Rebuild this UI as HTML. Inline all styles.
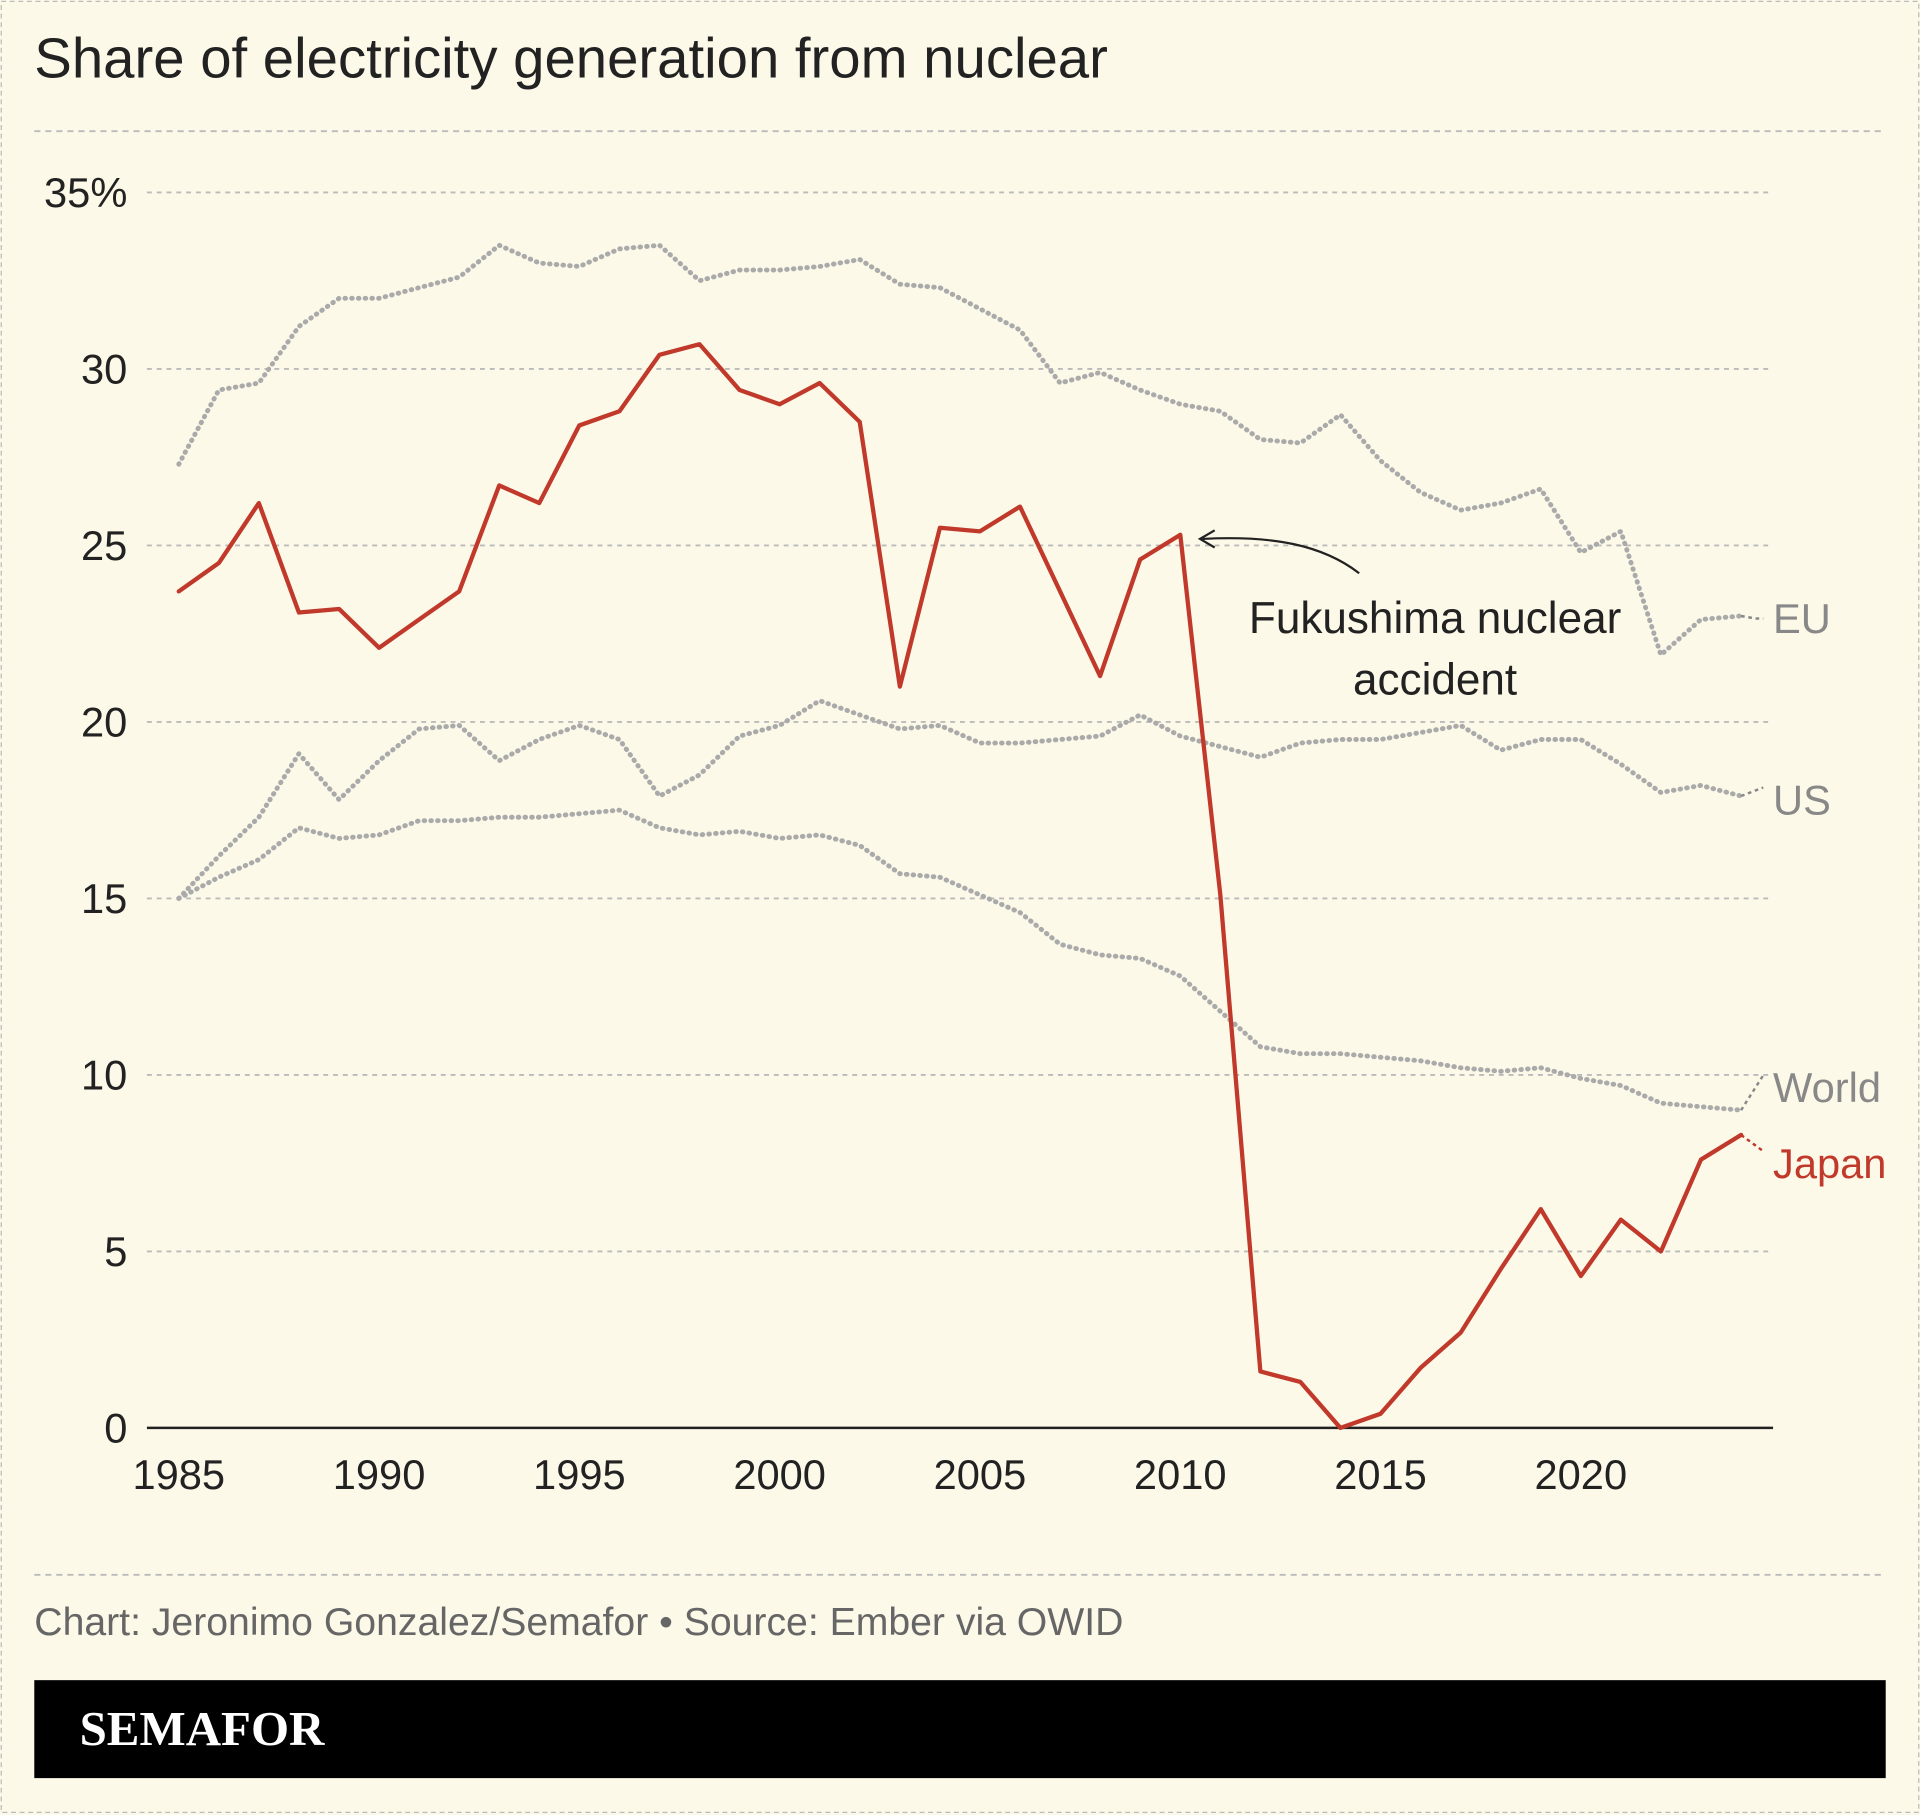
<!DOCTYPE html>
<html><head><meta charset="utf-8"><style>
html,body{margin:0;padding:0;background:#fcf9e8;}
svg{display:block;}
text{font-family:"Liberation Sans Narrow","Liberation Sans",sans-serif;}
</style></head><body>
<svg id="chart" width="1920" height="1815" viewBox="0 0 1568 1482" xmlns="http://www.w3.org/2000/svg">
<rect x="1" y="1" width="1566" height="1479" fill="#fcf9e8" stroke="#bbb" stroke-dasharray="4,3"/>
<text x="28" y="63" font-size="46" fill="#222" style="font-family:'Liberation Sans',sans-serif">Share of electricity generation from nuclear</text>
<line x1="28" y1="107" x2="1540" y2="107" stroke="#bbb" stroke-dasharray="5,4" stroke-width="1.5"/>
<g id="grid"></g><g id="series"></g><g id="labels"></g>
<text x="1172" y="517" font-size="36" fill="#222" text-anchor="middle"><tspan x="1172">Fukushima nuclear</tspan><tspan x="1172" dy="50">accident</tspan></text>
<path d="M1110,468 C1080,445 1040,437 982,440" fill="none" stroke="#222" stroke-width="1.8"/>
<path d="M992,433 L980,440 L992,447" fill="none" stroke="#222" stroke-width="1.8"/>
<line x1="28" y1="1286" x2="1540" y2="1286" stroke="#bbb" stroke-dasharray="5,4" stroke-width="1.5"/>
<text x="28" y="1335" font-size="32" fill="#666">Chart: Jeronimo Gonzalez/Semafor • Source: Ember via OWID</text>
<rect x="28" y="1372" width="1512" height="80" fill="#000"/>
<text x="65" y="1425" font-size="40" font-weight="bold" fill="#fff" style="font-family:'Liberation Serif',serif">SEMAFOR</text>
</svg>
<script>
const years=[];for(let y=1985;y<=2024;y++)years.push(y);
const japan=[23.7,24.5,26.2,23.1,23.2,22.1,22.9,23.7,26.7,26.2,28.4,28.8,30.4,30.7,29.4,29.0,29.6,28.5,21.0,25.5,25.4,26.1,23.7,21.3,24.6,25.3,15.1,1.6,1.3,0,0.4,1.7,2.7,4.5,6.2,4.3,5.9,5.0,7.6,8.3];
const eu=[27.3,29.4,29.6,31.2,32.0,32.0,32.3,32.6,33.5,33.0,32.9,33.4,33.5,32.5,32.8,32.8,32.9,33.1,32.4,32.3,31.7,31.1,29.6,29.9,29.4,29.0,28.8,28.0,27.9,28.7,27.4,26.5,26.0,26.2,26.6,24.8,25.4,21.9,22.9,23.0];
const us=[15.0,16.2,17.3,19.1,17.8,18.9,19.8,19.9,18.9,19.5,19.9,19.5,17.9,18.5,19.6,19.9,20.6,20.2,19.8,19.9,19.4,19.4,19.5,19.6,20.2,19.6,19.3,19.0,19.4,19.5,19.5,19.7,19.9,19.2,19.5,19.5,18.8,18.0,18.2,17.9];
const world=[15.0,15.6,16.1,17.0,16.7,16.8,17.2,17.2,17.3,17.3,17.4,17.5,17.0,16.8,16.9,16.7,16.8,16.5,15.7,15.6,15.1,14.6,13.7,13.4,13.3,12.8,11.8,10.8,10.6,10.6,10.5,10.4,10.2,10.1,10.2,9.9,9.7,9.2,9.1,9.0];
const yTicks=[0,5,10,15,20,25,30,35];
const yTickLabels=["0","5","10","15","20","25","30","35%"];
const xTicks=[1985,1990,1995,2000,2005,2010,2015,2020];
const NS="http://www.w3.org/2000/svg";
const X=y=>146+(y-1985)*(1291-146)/35;
const Y=v=>1166-v*(1166-157)/35;
function mk(t,a,p){const e=document.createElementNS(NS,t);for(const k in a)e.setAttribute(k,a[k]);p.appendChild(e);return e;}
const grid=document.getElementById('grid'),ser=document.getElementById('series'),lab=document.getElementById('labels');
yTicks.forEach((v,i)=>{
  if(v>0){const l=mk('line',{x1:120,x2:1448,y1:Y(v),y2:Y(v),stroke:'#bbb','stroke-dasharray':'4,4','stroke-width':1.5},grid);
  
  }
  const t=mk('text',{x:104,y:Y(v)+12,'font-size':34,fill:'#222','text-anchor':'end'},grid);t.textContent=yTickLabels[i];
  
  
});
const ax=mk('line',{x1:120,x2:1448,y1:Y(0),y2:Y(0),stroke:'#222','stroke-width':2},grid);


xTicks.forEach(y=>{const t=mk('text',{x:X(y),y:1216,'font-size':34,fill:'#222','text-anchor':'middle'},grid);t.textContent=y;
  
  });
function line(vals,name,color,dash,w){
  const d=vals.map((v,i)=>(i?'L':'M')+X(years[i]).toFixed(1)+','+Y(v).toFixed(1)).join('');
  const p=mk('path',{d:d,fill:'none',stroke:color,'stroke-width':w,'stroke-linejoin':'round','stroke-linecap':'round'},ser);
  if(dash)p.setAttribute('stroke-dasharray',dash);
  
  
}
line(eu,'eu-line','#aaa','0.5,5',4);
line(us,'us-line','#aaa','0.5,5',4);
line(world,'world-line','#aaa','0.5,5',4);
line(japan,'japan-line','#c0392b',null,3.5);
const lbls=[["EU",eu,505,'#888'],["US",us,653,'#888'],["World",world,888,'#888'],["Japan",japan,950,'#c0392b']];
lbls.forEach(([n,vals,ly,c])=>{
  const lx=X(2024),lyv=Y(vals[vals.length-1]);
  const cl=mk('path',{d:`M${lx},${lyv} L${lx+12},${ly} L1440,${ly}`,fill:'none',stroke:c,'stroke-width':2,'stroke-dasharray':'3,3'},lab);
  if(n==='US'||n==='World'||n==='Japan')cl.setAttribute('d',`M${lx},${lyv} L1440,${ly-10}`);
  
  
  const t=mk('text',{x:1448,y:ly+12,'font-size':34,fill:c},lab);t.textContent=n;
  
  
});
</script>
</body></html>
